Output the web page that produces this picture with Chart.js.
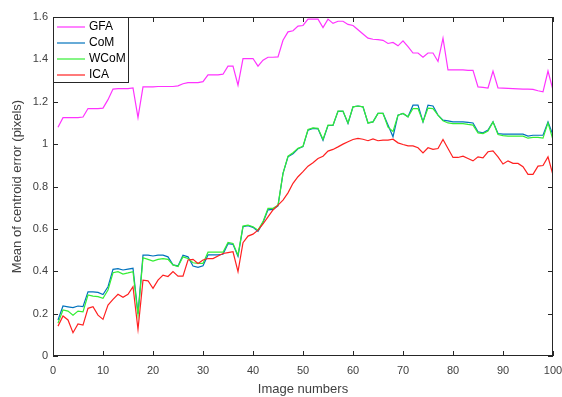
<!DOCTYPE html>
<html>
<head>
<meta charset="utf-8">
<script src="https://cdn.jsdelivr.net/npm/chart.js@4/dist/chart.umd.min.js"></script>
<style>
  html, body { margin: 0; padding: 0; background: #fff; }
</style>
</head>
<body>
<canvas id="myChart" width="562" height="397"></canvas>
<script>
// image numbers 1..100
const imageNumbers = Array.from({ length: 100 }, (_, i) => i + 1);

const gfa = [
  1.08, 1.125, 1.125, 1.125, 1.125, 1.128, 1.168, 1.168, 1.168, 1.17,
  1.21, 1.26, 1.262, 1.262, 1.262, 1.265, 1.125, 1.27, 1.27, 1.27,
  1.272, 1.272, 1.272, 1.272, 1.275, 1.285, 1.29, 1.29, 1.29, 1.295,
  1.327, 1.327, 1.327, 1.33, 1.368, 1.368, 1.278, 1.404, 1.404, 1.404,
  1.368, 1.396, 1.41, 1.41, 1.412, 1.49, 1.53, 1.535, 1.557, 1.56,
  1.59, 1.59, 1.59, 1.55, 1.59, 1.57, 1.58, 1.58, 1.565, 1.56,
  1.54, 1.52, 1.5, 1.495, 1.493, 1.49, 1.475, 1.48, 1.464, 1.487,
  1.46, 1.43, 1.43, 1.41, 1.43, 1.43, 1.39, 1.5, 1.35, 1.35,
  1.35, 1.35, 1.348, 1.348, 1.27, 1.268, 1.265, 1.345, 1.265, 1.264,
  1.263, 1.262, 1.261, 1.26, 1.26, 1.258, 1.252, 1.247, 1.345, 1.255
];

const com = [
  0.17, 0.236, 0.232, 0.228, 0.236, 0.233, 0.303, 0.303, 0.3, 0.29,
  0.327, 0.409, 0.412, 0.406, 0.41, 0.414, 0.2, 0.476, 0.476, 0.472,
  0.476, 0.476, 0.468, 0.43, 0.425, 0.476, 0.468, 0.425, 0.418, 0.426,
  0.477, 0.477, 0.477, 0.48, 0.53, 0.527, 0.47, 0.61, 0.615, 0.607,
  0.588, 0.63, 0.69, 0.692, 0.708, 0.862, 0.94, 0.955, 0.978, 0.988,
  1.066, 1.074, 1.072, 1.018, 1.088, 1.088, 1.155, 1.155, 1.098, 1.176,
  1.18, 1.176, 1.1, 1.105, 1.145, 1.145, 1.09, 1.035, 1.137, 1.145,
  1.129, 1.184, 1.184, 1.105, 1.184, 1.18, 1.137, 1.113, 1.11, 1.105,
  1.105, 1.105, 1.103, 1.1, 1.058, 1.053, 1.066, 1.105, 1.05, 1.047,
  1.047, 1.047, 1.047, 1.047, 1.038, 1.042, 1.042, 1.042, 1.105, 1.042
];

const wcom = [
  0.155, 0.217, 0.212, 0.193, 0.212, 0.208, 0.288, 0.283, 0.28, 0.272,
  0.311, 0.393, 0.398, 0.387, 0.392, 0.398, 0.193, 0.464, 0.456, 0.448,
  0.456, 0.46, 0.456, 0.43, 0.422, 0.468, 0.46, 0.44, 0.437, 0.437,
  0.49, 0.49, 0.49, 0.49, 0.536, 0.531, 0.476, 0.613, 0.618, 0.61,
  0.594, 0.634, 0.697, 0.697, 0.712, 0.862, 0.943, 0.959, 0.98, 0.99,
  1.069, 1.077, 1.075, 1.022, 1.09, 1.09, 1.156, 1.156, 1.1, 1.176,
  1.18, 1.176, 1.1, 1.105, 1.145, 1.145, 1.08, 1.06, 1.137, 1.145,
  1.129, 1.168, 1.168, 1.105, 1.17, 1.168, 1.137, 1.11, 1.1, 1.097,
  1.097, 1.097, 1.093, 1.09, 1.053, 1.05, 1.062, 1.105, 1.045, 1.04,
  1.038, 1.038, 1.038, 1.038, 1.028, 1.032, 1.032, 1.028, 1.1, 1.02
];

const ica = [
  0.141, 0.189, 0.17, 0.11, 0.151, 0.146, 0.225, 0.233, 0.193, 0.173,
  0.24, 0.267, 0.291, 0.277, 0.291, 0.327, 0.126, 0.358, 0.355, 0.319,
  0.358, 0.382, 0.375, 0.398, 0.377, 0.377, 0.453, 0.456, 0.437, 0.453,
  0.46, 0.46, 0.472, 0.484, 0.488, 0.492, 0.398, 0.535, 0.566, 0.575,
  0.594, 0.623, 0.657, 0.689, 0.712, 0.736, 0.77, 0.815, 0.846, 0.87,
  0.896, 0.912, 0.932, 0.943, 0.967, 0.975, 0.987, 1.0, 1.011, 1.022,
  1.027, 1.023, 1.016, 1.025, 1.016, 1.019, 1.019, 1.023, 1.006, 0.998,
  0.992, 0.992, 0.983, 0.959, 0.983, 0.975, 0.979, 1.022, 0.979, 0.937,
  0.937, 0.943, 0.932, 0.921, 0.94, 0.935, 0.964, 0.968, 0.94, 0.906,
  0.921, 0.909, 0.909, 0.893, 0.857, 0.857, 0.896, 0.899, 0.94, 0.854
];

const seriesNames = ["GFA", "CoM", "WCoM", "ICA"];
const seriesColors = ["#ff33ff", "#0072bd", "#33ee33", "#ff2020"];
const seriesValues = [gfa, com, wcom, ica];

const xTicks = [0, 10, 20, 30, 40, 50, 60, 70, 80, 90, 100];
const yTicks = [0, 0.2, 0.4, 0.6, 0.8, 1, 1.2, 1.4, 1.6];
const yTickLabels = ["0", "0.2", "0.4", "0.6", "0.8", "1", "1.2", "1.4", "1.6"];

const fontFam = "'Liberation Sans', Arial, Helvetica, sans-serif";
const axisCol = "#262626";

// matlab-like box, inner ticks and legend inside the axes
const matlabBox = {
  id: "matlabBox",
  afterDatasetsDraw(chart) {
    const ctx = chart.ctx;
    const a = chart.chartArea;
    const xs = chart.scales.x;
    const ys = chart.scales.y;
    ctx.save();
    ctx.strokeStyle = axisCol;
    ctx.lineWidth = 1;
    ctx.strokeRect(a.left + 0.5, a.top + 0.5, a.right - a.left - 1, a.bottom - a.top - 1);
    const tl = 5;
    ctx.beginPath();
    xTicks.forEach(v => {
      const px = Math.round(xs.getPixelForValue(v)) + 0.5;
      ctx.moveTo(px, a.bottom); ctx.lineTo(px, a.bottom - tl);
      ctx.moveTo(px, a.top); ctx.lineTo(px, a.top + tl);
    });
    yTicks.forEach(v => {
      const py = Math.round(ys.getPixelForValue(v)) + 0.5;
      ctx.moveTo(a.left, py); ctx.lineTo(a.left + tl, py);
      ctx.moveTo(a.right, py); ctx.lineTo(a.right - tl, py);
    });
    ctx.stroke();

    // legend
    const lx = a.left, ly = a.top, lw = 75, lh = 65;
    ctx.fillStyle = "#fff";
    ctx.fillRect(lx, ly, lw, lh);
    ctx.strokeStyle = axisCol;
    ctx.strokeRect(lx + 0.5, ly + 0.5, lw, lh);
    ctx.font = "12px " + fontFam;
    ctx.textBaseline = "middle";
    chart.data.datasets.forEach((ds, i) => {
      const y = ly + 10 + i * 16;
      ctx.strokeStyle = ds.borderColor;
      ctx.lineWidth = 1.2;
      ctx.beginPath();
      ctx.moveTo(lx + 4, y); ctx.lineTo(lx + 32, y);
      ctx.stroke();
      ctx.fillStyle = "#000";
      ctx.fillText(ds.label, lx + 36, y);
    });
    ctx.restore();
  }
};

document.addEventListener("DOMContentLoaded", function () {
  const canvas = document.getElementById("myChart");
  const ctx = canvas.getContext("2d");
  new Chart(ctx, {
    type: "line",
    data: {
      datasets: seriesNames.map((name, i) => ({
        label: name,
        data: imageNumbers.map((x, j) => ({ x: x, y: seriesValues[i][j] })),
        borderColor: seriesColors[i],
        backgroundColor: seriesColors[i],
        borderWidth: 1.2,
        pointRadius: 0,
        tension: 0,
        fill: false,
        order: 3 - i
      }))
    },
    options: {
      responsive: false,
      animation: false,
      devicePixelRatio: 1,
      layout: { padding: { top: 17, right: 0, left: 0, bottom: 0 } },
      plugins: {
        legend: { display: false },
        tooltip: { enabled: false }
      },
      scales: {
        x: {
          type: "linear",
          min: 0,
          max: 100,
          afterBuildTicks: s => { s.ticks = xTicks.map(v => ({ value: v })); },
          afterFit: s => { s.height = 41; s.paddingRight = 9; s.paddingLeft = 0; },
          grid: { display: false, drawTicks: false },
          border: { display: false },
          ticks: { color: "#404040", padding: 8, maxRotation: 0, font: { size: 11, family: fontFam } },
          title: {
            display: true,
            text: "Image numbers",
            color: "#404040",
            padding: { top: 0, bottom: 0 },
            font: { size: 13, family: fontFam }
          }
        },
        y: {
          type: "linear",
          min: 0,
          max: 1.6,
          afterBuildTicks: s => { s.ticks = yTicks.map(v => ({ value: v })); },
          afterFit: s => { s.width = 53; },
          grid: { display: false, drawTicks: false },
          border: { display: false },
          ticks: {
            color: "#404040",
            padding: 5,
            font: { size: 11, family: fontFam },
            callback: (v, i) => yTickLabels[i]
          },
          title: {
            display: true,
            text: "Mean of centroid error (pixels)",
            color: "#404040",
            padding: { top: 10, bottom: 0 },
            font: { size: 13, family: fontFam }
          }
        }
      }
    },
    plugins: [matlabBox]
  });
});
</script>
</body>
</html>
